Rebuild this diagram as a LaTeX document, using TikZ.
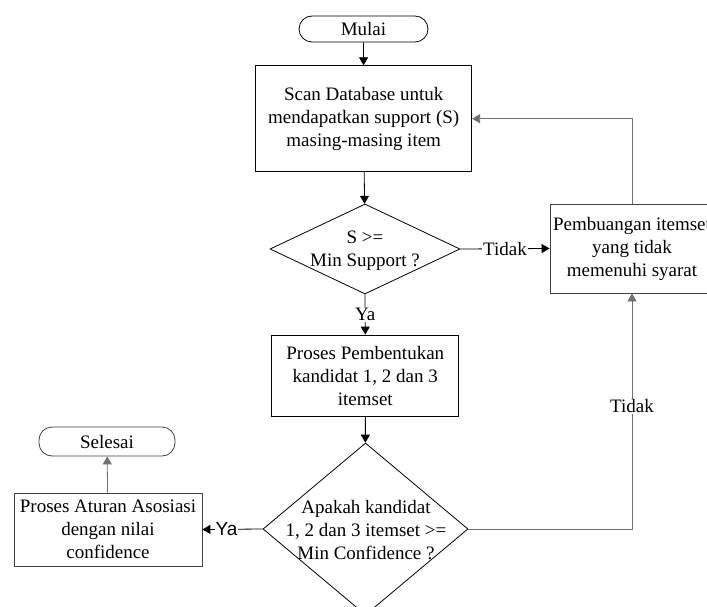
\documentclass[tikz,border=0pt]{standalone}
\usepackage{fontspec}
\setmainfont{Liberation Serif}
\newfontfamily\arialf{Liberation Sans}
\usetikzlibrary{arrows.meta,shapes.geometric}
\definecolor{loopgray}{HTML}{707070}
\definecolor{boxgray}{HTML}{404040}
\tikzset{
  base/.style={font=\fontsize{19}{23}\selectfont, align=center, inner sep=0pt},
  term/.style={base, draw=black, line width=0.8pt, rounded corners=13pt, minimum height=26pt},
  procbox/.style={base, draw=black, line width=0.8pt, minimum width=#1},
  dia/.style={draw=black, line width=0.8pt, diamond, inner sep=0pt},
  conn/.style={line width=0.8pt, -{Triangle[length=8pt,width=9pt]}},
  lbl/.style={font=\fontsize{19}{23}\selectfont, fill=white, inner sep=1pt},
}
\begin{document}
\begin{tikzpicture}[x=1pt,y=-1pt]
\useasboundingbox (0,0) rectangle (707,607);
\clip (0,0) rectangle (707,607);
\fill[white] (0,0) rectangle (707,607);

\node[term, minimum width=129pt] (mulai) at (363.5,29) {Mulai};
\node[procbox=216pt, minimum height=106pt] (scan) at (363.7,118.7)
  {Scan Database untuk\\mendapatkan support (S)\\masing-masing item};
\node[dia, minimum width=190pt, minimum height=90pt] (d1) at (365,249) {};
\node[base] at (365,251) {S >=\\Min Support ?};
\node[procbox=187pt, minimum height=81pt] (proses) at (365.3,375.5)
  {Proses Pembentukan\\kandidat 1, 2 dan 3\\itemset};
\node[dia, minimum width=205pt, minimum height=172pt] (d2) at (365.5,529) {};
\node[base] at (366,530) {Apakah kandidat\\1, 2 dan 3 itemset >=\\Min Confidence ?};
\node[procbox=164pt, minimum height=89pt, draw=boxgray] (buang) at (632,248.5)
  {Pembuangan itemset\\yang tidak\\memenuhi syarat};
\node[procbox=188pt, minimum height=73pt, draw=boxgray] (aturan) at (108,529.5)
  {Proses Aturan Asosiasi\\dengan nilai\\confidence};
\node[term, minimum width=136pt, minimum height=29pt, draw=boxgray] (selesai) at (107,441.5) {Selesai};

\draw[conn] (mulai) -- (scan);
\draw[conn] (scan) -- (d1);
\draw[conn] (d1.east) -- node[lbl] {Tidak} (buang.west);
\draw[conn] (d1.south) -- node[lbl] {Ya} (proses.north);
\draw[conn] (proses) -- (d2);
\draw[conn, loopgray] (d2.east) -| node[lbl, pos=0.76, text=black] {Tidak} (buang.south);
\draw[conn] (d2.west) -- node[lbl, pos=0.6, font=\arialf\fontsize{19}{23}\selectfont] {Ya} (aturan.east);
\draw[conn, loopgray] (aturan) -- (selesai);
\draw[conn, loopgray] (buang.north) |- (scan.east);
\end{tikzpicture}
\end{document}
